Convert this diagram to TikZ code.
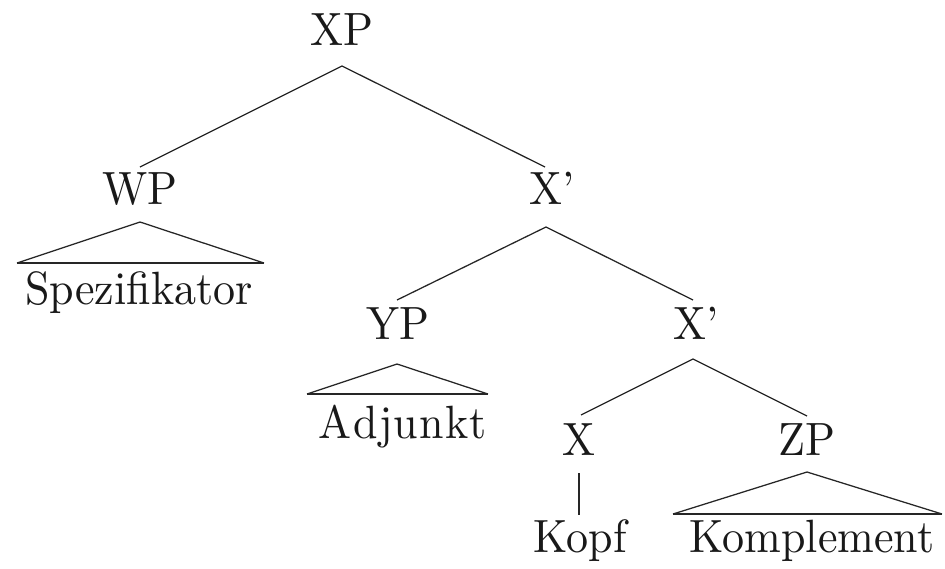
\documentclass[tikz,border=0pt]{standalone}
\usepackage{graphicx}
\newcommand{\ST}[1]{\scalebox{3.3}[3.5]{#1}}
\begin{document}
\begin{tikzpicture}[x=0.75pt,y=-0.75pt,
  lbl/.style={inner sep=0pt,outer sep=0pt,font=\fontsize{10}{12}\selectfont,text=black!90},
  edge/.style={line width=0.95pt,draw=black!85},
  base/.style={line width=1.5pt,draw=black!85}]
\useasboundingbox (0,0) rectangle (945,568);
% labels
\node[lbl,anchor=base] (XP) at (342,45) {\ST{XP}};
\node[lbl,anchor=base] (WP) at (140,204) {\ST{WP}};
\node[lbl,anchor=base west] (X1) at (529,204) {\ST{X’}};
\node[lbl,anchor=base] (SP) at (139,304) {\ST{Spezifikator}};
\node[lbl,anchor=base] (YP) at (398,339) {\ST{YP}};
\node[lbl,anchor=base west] (X2) at (673,339) {\ST{X’}};
\node[lbl,anchor=base] (AD) at (403,438) {\ST{A\kern0.3pt d\kern0.3pt j\kern0.3pt u\kern0.3pt n\kern0.3pt k\kern0.3pt t}};
\node[lbl,anchor=base] (X) at (579,455) {\ST{X}};
\node[lbl,anchor=base] (ZP) at (807,455) {\ST{ZP}};
\node[lbl,anchor=base] (KO) at (580,552) {\ST{Kopf}};
\node[lbl,anchor=base] (KM) at (812,552) {\ST{Komplement}};
% connection points
\coordinate (XPb) at (342,66);
\coordinate (WPt) at (140,167);
\coordinate (X1t) at (545,167);
\coordinate (WPb) at (140,222);
\coordinate (WPl) at (17,263);
\coordinate (WPr) at (264,263);
\coordinate (X1b) at (546,227);
\coordinate (YPt) at (397,300);
\coordinate (X2t) at (693,300);
\coordinate (YPb) at (397,364);
\coordinate (YPl) at (307,394);
\coordinate (YPr) at (488,394);
\coordinate (X2b) at (693,359);
\coordinate (Xt) at (581,415);
\coordinate (ZPt) at (807,416);
\coordinate (Xb) at (579,473);
\coordinate (KOt) at (579,515);
\coordinate (ZPb) at (807,472);
\coordinate (ZPl) at (673,514);
\coordinate (ZPr) at (942,514);
% edges
\draw[edge] (WPt) -- (XPb) -- (X1t);
\draw[edge] (YPt) -- (X1b) -- (X2t);
\draw[edge] (Xt) -- (X2b) -- (ZPt);
\draw[edge] (Xb) -- (KOt);
% triangles
\draw[edge] (WPl) -- (WPb) -- (WPr);
\draw[base] (WPl) -- (WPr);
\draw[edge] (YPl) -- (YPb) -- (YPr);
\draw[base] (YPl) -- (YPr);
\draw[edge] (ZPl) -- (ZPb) -- (ZPr);
\draw[base] (ZPl) -- (ZPr);
\end{tikzpicture}
\end{document}
